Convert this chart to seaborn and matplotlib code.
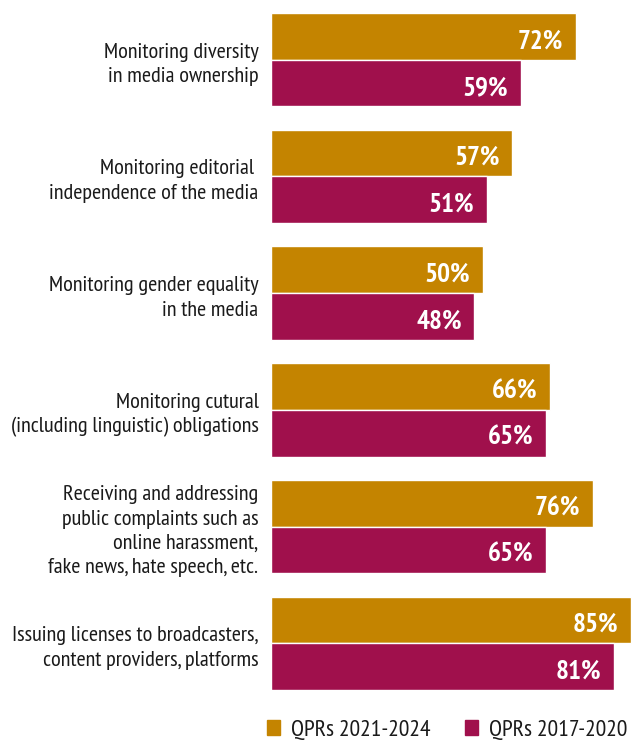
import matplotlib
matplotlib.use("Agg")
import matplotlib.pyplot as plt
import seaborn as sns
import pandas as pd

categories = [
    "Monitoring diversity\nin media ownership",
    "Monitoring editorial \nindependence of the media",
    "Monitoring gender equality\nin the media",
    "Monitoring cutural\n(including linguistic) obligations",
    "Receiving and addressing\npublic complaints such as\nonline harassment,\nfake news, hate speech, etc.",
    "Issuing licenses to broadcasters,\ncontent providers, platforms",
]
series_names = ["QPRs 2021-2024", "QPRs 2017-2020"]
values_2021_2024 = [72, 57, 50, 66, 76, 85]
values_2017_2020 = [59, 51, 48, 65, 65, 81]
colors = ["#C48400", "#A0104C"]

df = pd.DataFrame({
    "category": categories * 2,
    "series": [series_names[0]] * len(categories) + [series_names[1]] * len(categories),
    "value": values_2021_2024 + values_2017_2020,
})

sns.set_theme(style="white")
plt.rcParams["font.family"] = ["PT Sans Narrow", "DejaVu Sans"]

fig = plt.figure(figsize=(6.33, 7.42), dpi=100)
ax = fig.add_axes([271 / 633, 1 - 690 / 742, 1 - 271 / 633, (690 - 13) / 742])

sns.barplot(data=df, y="category", x="value", hue="series", orient="h",
            palette=colors, hue_order=series_names, order=categories,
            width=0.8, saturation=1, ax=ax, legend=False)

ax.set_xlim(0, 85.5)
ax.set_ylim(5.4, -0.4)
ax.set_xlabel("")
ax.set_ylabel("")
ax.set_xticks([])
for s in ax.spines.values():
    s.set_visible(False)
ax.tick_params(axis="y", length=0, pad=9, labelsize=16, labelcolor="#1a1a1a")
for t in ax.get_yticklabels():
    t.set_linespacing(1.36)

for cont in ax.containers:
    for p in cont:
        w = p.get_width()
        y = p.get_y() + p.get_height() / 2
        ax.annotate(f"{w:.0f}%", xy=(w, y), xytext=(-9, -3.5), textcoords="offset points",
                    ha="right", va="center", color="white", fontsize=19.5, fontweight="bold")

handles = [plt.Rectangle((0, 0), 1, 1, color=c) for c in colors]
fig.legend(handles, series_names, loc="lower left", bbox_to_anchor=(246 / 633, -0.027),
           ncol=2, frameon=False, fontsize=17, handlelength=0.56, handleheight=0.56,
           handletextpad=0.45, columnspacing=1.45, labelcolor="#1a1a1a")

fig.savefig("out.png", dpi=100)
